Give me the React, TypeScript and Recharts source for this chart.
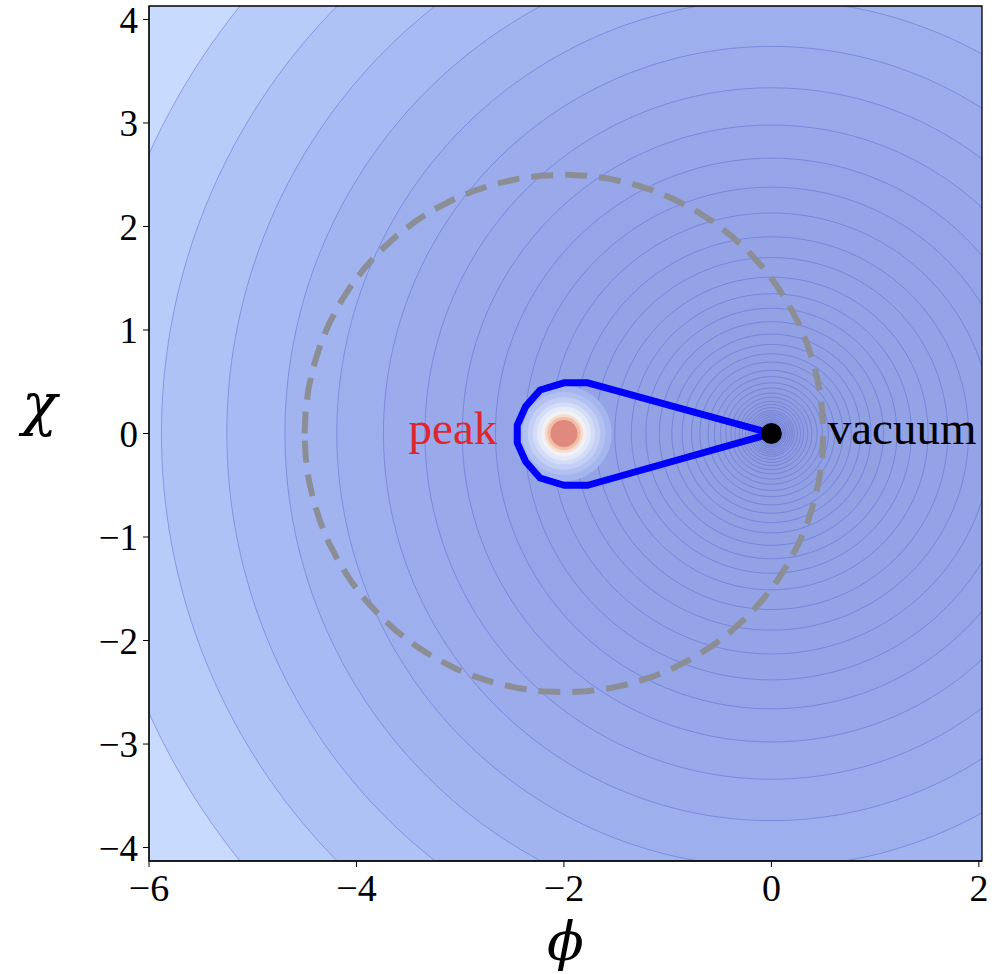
import React from "react"
import {
  ComposedChart,
  XAxis,
  YAxis,
  Area,
  Line,
  Scatter,
  ReferenceArea,
  ReferenceDot,
} from "recharts"

// axes
const xDomain = [-6.0, 2.03]
const yDomain = [-4.13, 4.13]
const xTicks = [-6, -4, -2, 0, 2]
const yTicks = [-4, -3, -2, -1, 0, 1, 2, 3, 4]

// contour radii around the vacuum (read along the chi axis), outermost first
const contourRadii = [
  6.58, 5.88, 5.25, 4.69, 4.19, 3.74, 3.34, 2.98, 2.66, 2.38, 2.13, 1.9, 1.7, 1.51, 1.35,
  1.21, 1.08, 0.96, 0.86, 0.77, 0.69, 0.61, 0.55, 0.49, 0.44, 0.39, 0.35, 0.31, 0.28,
  0.25, 0.22, 0.2, 0.18, 0.16, 0.14, 0.125, 0.11,
]
const outerColors = [
  "#c8dafd", "#b8ccf9", "#afc2f6", "#a8baf3", "#a2b4f0", "#9eafed",
  "#9babeb", "#99a9ea", "#97a7e9", "#96a5e8",
]
const innerFrom = "#95a4e7"
const innerTo = "#8b98dd"

// bump around the peak
const peakCenter = [{ x: -2, y: 0 }]
const peakRadii = [0.46, 0.4, 0.35, 0.3, 0.26, 0.22, 0.185, 0.16, 0.13]
const peakColors = [
  "#a5b5ee", "#b3c1f2", "#c3cff5", "#d4ddf7", "#e5eaf8", "#f2f1f3", "#f6dbcd", "#f1bda7", "#e08a7f",
]

// closed path from the vacuum around the peak
const loopPhi = [0, -1.77, -2.0, -2.23, -2.37, -2.45, -2.45, -2.37, -2.23, -2.0, -1.77, 0]
const loopChi = [0, 0.49, 0.49, 0.42, 0.26, 0.08, -0.09, -0.27, -0.43, -0.5, -0.5, 0]

// dashed circle around the peak
const ringCenter = { x: -2, y: 0 }
const ringRadius = 2.5

const vacuum = [{ x: 0, y: 0 }]
const labels = [
  { x: -3.07, y: 0.056, text: "peak", color: "#e0262d" },
  { x: 1.26, y: 0.056, text: "vacuum", color: "#000000" },
]

const serif = "Liberation Serif"

function hexToRgb(h: string) {
  const n = parseInt(h.slice(1), 16)
  return [(n >> 16) & 255, (n >> 8) & 255, n & 255]
}
function mix(a: string, b: string, t: number) {
  const p = hexToRgb(a)
  const q = hexToRgb(b)
  const c = p.map((v, i) => Math.round(v + (q[i] - v) * t))
  return `rgb(${c[0]},${c[1]},${c[2]})`
}

function disk(cx: number, cy: number, r: number, n = 140) {
  const pts = []
  for (let i = 0; i <= n; i++) {
    const t = Math.PI - (Math.PI * i) / n
    const h = r * Math.sin(t)
    pts.push({ x: cx + r * Math.cos(t), band: [cy - h, cy + h] })
  }
  return pts
}

function ring(cx: number, cy: number, r: number, n = 72) {
  const pts = []
  for (let i = 0; i <= n; i++) {
    const t = Math.PI - (2 * Math.PI * i) / n
    pts.push({ x: cx + r * Math.cos(t), y: cy + r * Math.sin(t) })
  }
  return pts
}

const allRadii = [8, ...contourRadii]
const innerCount = allRadii.length - outerColors.length
const diskColors = allRadii.map((_, i) =>
  i < outerColors.length
    ? outerColors[i]
    : mix(innerFrom, innerTo, (i - outerColors.length) / Math.max(1, innerCount - 1))
)

const loopData = loopPhi.map((x, i) => ({ x, y: loopChi[i] }))
const ringData = ring(ringCenter.x, ringCenter.y, ringRadius)

const fmt = (v: number) => String(v).replace("-", "\u2212")

export default function App() {
  return (
    <div style={{ position: "absolute", left: 0, top: 0, background: "#fff" }}>
      <ComposedChart width={996} height={974} margin={{ top: 6, right: 14, bottom: 0, left: 0 }}>
        <XAxis
          type="number"
          dataKey="x"
          domain={xDomain}
          ticks={xTicks}
          interval={0}
          allowDataOverflow
          height={113}
          tickSize={6}
          tickMargin={7}
          tickFormatter={fmt}
          axisLine={{ stroke: "#000" }}
          tickLine={{ stroke: "#000" }}
          tick={{ fill: "#000", fontSize: 38, fontFamily: serif }}
          label={{
            content: (p: any) => {
              const vb = p.viewBox || { x: 149, y: 861, width: 833, height: 113 }
              return (
                <text
                  x={vb.x + vb.width / 2}
                  y={vb.y + vb.height - 14}
                  textAnchor="middle"
                  fontSize={54}
                  fontStyle="italic"
                  fontFamily="DejaVu Serif"
                  fill="#000"
                >
                  ϕ
                </text>
              )
            },
          }}
        />
        <YAxis
          type="number"
          domain={yDomain}
          ticks={yTicks}
          interval={0}
          allowDataOverflow
          width={149}
          tickSize={6}
          tickMargin={5}
          tickFormatter={fmt}
          axisLine={{ stroke: "#000" }}
          tickLine={{ stroke: "#000" }}
          tick={{ fill: "#000", fontSize: 37, fontFamily: serif }}
          label={{
            content: (p: any) => {
              const vb = p.viewBox || { x: 0, y: 6, width: 149, height: 855 }
              return (
                <text
                  x={vb.x + 22}
                  y={vb.y + vb.height / 2 - 10}
                  textAnchor="start"
                  fontSize={58}
                  fontStyle="italic"
                  fontFamily="DejaVu Serif"
                  fill="#000"
                >
                  χ
                </text>
              )
            },
          }}
        />

        {allRadii.map((r, i) => (
          <Area
            key={`c${i}`}
            data={disk(0, 0, r)}
            dataKey="band"
            type="linear"
            fill={diskColors[i]}
            fillOpacity={1}
            stroke={i === 0 ? "none" : "#5b6dd2"}
            strokeOpacity={0.6}
            strokeWidth={0.9}
            dot={false}
            activeDot={false}
            isAnimationActive={false}
          />
        ))}

        {peakRadii.map((r, i) => (
          <Area
            key={`p${i}`}
            data={disk(peakCenter[0].x, peakCenter[0].y, r, 80)}
            dataKey="band"
            type="linear"
            fill={peakColors[i]}
            fillOpacity={1}
            stroke="none"
            dot={false}
            activeDot={false}
            isAnimationActive={false}
          />
        ))}

        <Line
          data={ringData}
          dataKey="y"
          type="linear"
          stroke="#8c8e95"
          strokeWidth={6}
          strokeDasharray="22 12"
          dot={false}
          activeDot={false}
          isAnimationActive={false}
        />
        <Line
          data={loopData}
          dataKey="y"
          type="linear"
          stroke="#0000ff"
          strokeWidth={7}
          strokeLinejoin="round"
          dot={false}
          activeDot={false}
          isAnimationActive={false}
        />
        <Scatter
          data={vacuum}
          dataKey="y"
          isAnimationActive={false}
          shape={(p: any) => <circle cx={p.cx} cy={p.cy} r={10.5} fill="#000" />}
        />

        {labels.map((l) => (
          <ReferenceDot
            key={l.text}
            x={l.x}
            y={l.y}
            r={0}
            stroke="none"
            fill="none"
            label={{
              value: l.text,
              position: "center",
              fill: l.color,
              fontSize: 47,
              fontFamily: serif,
            }}
          />
        ))}

        <ReferenceArea
          x1={xDomain[0]}
          x2={xDomain[1]}
          y1={yDomain[0]}
          y2={yDomain[1]}
          fill="none"
          stroke="#000"
          strokeWidth={1.3}
          ifOverflow="visible"
        />
      </ComposedChart>
    </div>
  )
}
